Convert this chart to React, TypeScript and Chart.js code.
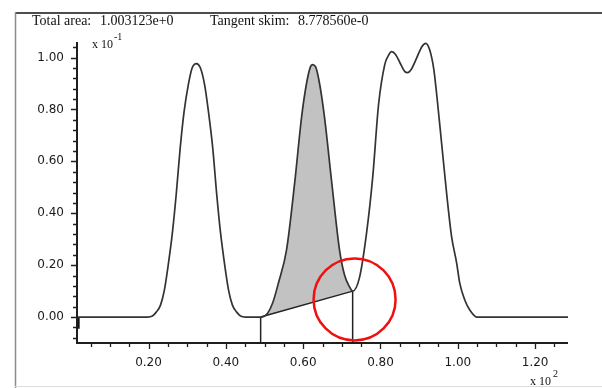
import React, { useEffect, useRef } from "react";
import { Chart, registerables } from "chart.js";

Chart.register(...registerables);

// ---- data (x in units of 10^2, y in units of 10^-1) ----
const curveX = [
  0.015, 0.197, 0.210, 0.220, 0.231, 0.241, 0.251, 0.262, 0.272, 0.282, 0.292, 0.303, 0.313, 0.324,
  0.334, 0.345, 0.355, 0.366, 0.376, 0.386, 0.397, 0.407, 0.417, 0.428, 0.438, 0.451,
  0.490, 0.508, 0.521, 0.536, 0.557, 0.578, 0.596, 0.609, 0.619, 0.624, 0.632, 0.642, 0.655,
  0.674, 0.694, 0.707, 0.720, 0.728,
  0.746, 0.764, 0.780, 0.795, 0.811, 0.819, 0.829, 0.839, 0.850, 0.863, 0.870, 0.881, 0.894,
  0.907, 0.917, 0.927, 0.938, 0.946, 0.959, 0.972, 0.984, 0.997, 1.005, 1.018, 1.031, 1.049, 1.285,
];
const curveY = [
  0, 0, 0.004, 0.019, 0.046, 0.104, 0.201, 0.328, 0.479, 0.653, 0.792, 0.896, 0.961, 0.977,
  0.961, 0.896, 0.792, 0.653, 0.479, 0.328, 0.201, 0.104, 0.046, 0.019, 0.004, 0,
  0, 0.015, 0.054, 0.131, 0.259, 0.517, 0.772, 0.903, 0.965, 0.973, 0.965, 0.903, 0.772,
  0.517, 0.259, 0.162, 0.116, 0.1,
  0.154, 0.324, 0.541, 0.819, 0.973, 1.004, 1.023, 1.012, 0.981, 0.946, 0.942, 0.958, 1.0,
  1.042, 1.055, 1.031, 0.954, 0.849, 0.656, 0.463, 0.309, 0.208, 0.131, 0.066, 0.027, 0, 0,
];
const skimX = [0.49, 0.728];
const skimY = [0, 0.1];
const dropX = [0.49, 0.728];
const dropTopY = [0, 0.1];

const xTickValues = [0.2, 0.4, 0.6, 0.8, 1.0, 1.2];
const xTickLabels = ["0.20", "0.40", "0.60", "0.80", "1.00", "1.20"];
const yTickValues = [0, 0.2, 0.4, 0.6, 0.8, 1.0];
const yTickLabels = ["0.00", "0.20", "0.40", "0.60", "0.80", "1.00"];
const headerTexts = ["Total area:", "1.003123e+0", "Tangent skim:", "8.778560e-0"];
const xExponent = "2";
const yExponent = "-1";

const X_MIN = 0.015;
const X_MAX = 1.285;
const Y_MIN = -0.1;
const Y_MAX = 1.06;
const X_MINOR = 0.05;
const Y_MINOR = 0.04;
const markCenter = { x: 0.733, y: 0.068 };

const pts = (xs: number[], ys: number[]) => xs.map((x, i) => ({ x, y: ys[i] }));

const decor = {
  id: "decor",
  afterDraw(chart: any) {
    const { ctx, chartArea: a, scales } = chart;
    const xs = scales.x;
    const ys = scales.y;
    ctx.save();
    // frame
    ctx.strokeStyle = "#4d4d4d";
    ctx.lineWidth = 2;
    ctx.beginPath();
    ctx.moveTo(15, 13);
    ctx.lineTo(602, 13);
    ctx.stroke();
    ctx.strokeStyle = "#8c8c8c";
    ctx.lineWidth = 1.5;
    ctx.beginPath();
    ctx.moveTo(15.5, 12);
    ctx.lineTo(15.5, 388);
    ctx.stroke();
    ctx.strokeStyle = "#dddddd";
    ctx.lineWidth = 1;
    ctx.beginPath();
    ctx.moveTo(15, 386.5);
    ctx.lineTo(602, 386.5);
    ctx.stroke();

    // axes
    ctx.strokeStyle = "#1e1e1e";
    ctx.lineWidth = 2;
    ctx.beginPath();
    ctx.moveTo(a.left, a.top);
    ctx.lineTo(a.left, a.bottom);
    ctx.lineTo(a.right, a.bottom);
    ctx.stroke();

    // ticks
    ctx.lineWidth = 1.3;
    ctx.beginPath();
    for (let k = 1; k * X_MINOR < X_MAX; k++) {
      const px = Math.round(xs.getPixelForValue(k * X_MINOR)) + 0.5;
      const len = k % 4 === 0 ? 6 : 4;
      ctx.moveTo(px, a.bottom);
      ctx.lineTo(px, a.bottom + len);
    }
    for (let k = Math.ceil(Y_MIN / Y_MINOR); k * Y_MINOR <= Y_MAX; k++) {
      const py = Math.round(ys.getPixelForValue(k * Y_MINOR)) + 0.5;
      const len = k % 5 === 0 ? 6 : 4;
      ctx.moveTo(a.left, py);
      ctx.lineTo(a.left - len, py);
    }
    ctx.stroke();

    // header
    ctx.fillStyle = "#111";
    ctx.textBaseline = "alphabetic";
    ctx.font = '14px "Liberation Serif"';
    ctx.fillText(headerTexts[0], 32, 25);
    ctx.fillText(headerTexts[1], 100, 25);
    ctx.fillText(headerTexts[2], 210, 25);
    ctx.fillText(headerTexts[3], 298, 25);

    // exponents
    ctx.font = '12px "Liberation Serif"';
    ctx.fillText("x 10", 92, 48);
    ctx.fillText("x 10", 530, 385);
    ctx.font = '10px "Liberation Serif"';
    ctx.fillText(yExponent, 114, 40);
    ctx.fillText(xExponent, 553, 377);

    // red mark
    ctx.strokeStyle = "#f01010";
    ctx.lineWidth = 2.5;
    ctx.beginPath();
    ctx.arc(xs.getPixelForValue(markCenter.x), ys.getPixelForValue(markCenter.y), 41, 0, Math.PI * 2);
    ctx.stroke();
    ctx.restore();
  },
};

export default function App() {
  const ref = useRef<HTMLCanvasElement | null>(null);
  useEffect(() => {
    const canvas = ref.current;
    if (!canvas) return;
    const curve = pts(curveX, curveY);
    const shade = curve.filter((p) => p.x >= skimX[0] && p.x <= skimX[1]);
    const chart = new Chart(canvas, {
      type: "scatter",
      data: {
        datasets: [
          {
            data: pts(skimX, skimY),
            showLine: true,
            borderColor: "#222",
            borderWidth: 1.5,
            pointRadius: 0,
            order: 2,
          } as any,
          {
            data: shade,
            showLine: true,
            borderWidth: 0,
            borderColor: "rgba(0,0,0,0)",
            backgroundColor: "#c2c2c2",
            fill: 0,
            cubicInterpolationMode: "monotone",
            pointRadius: 0,
            order: 3,
          } as any,
          {
            data: curve,
            showLine: true,
            borderColor: "#333",
            borderWidth: 1.7,
            cubicInterpolationMode: "monotone",
            pointRadius: 0,
            order: 1,
          } as any,
          {
            data: [
              { x: dropX[0], y: dropTopY[0] },
              { x: dropX[0], y: Y_MIN },
            ],
            showLine: true,
            borderColor: "#222",
            borderWidth: 1.5,
            pointRadius: 0,
            order: 1,
          } as any,
          {
            data: [
              { x: dropX[1], y: dropTopY[1] },
              { x: dropX[1], y: Y_MIN },
            ],
            showLine: true,
            borderColor: "#222",
            borderWidth: 1.5,
            pointRadius: 0,
            order: 1,
          } as any,
          {
            data: [
              { x: X_MIN + 0.003, y: 0 },
              { x: X_MIN + 0.003, y: -0.045 },
            ],
            showLine: true,
            borderColor: "#111",
            borderWidth: 3,
            pointRadius: 0,
            order: 1,
          } as any,
        ],
      },
      options: {
        responsive: false,
        maintainAspectRatio: false,
        animation: false,
        layout: { padding: { left: 15, right: 34, top: 42, bottom: 0 }, autoPadding: false } as any,
        plugins: { legend: { display: false }, tooltip: { enabled: false } },
        scales: {
          x: {
            type: "linear",
            min: X_MIN,
            max: X_MAX,
            grid: { display: false, drawTicks: false },
            border: { display: false },
            afterFit: (s: any) => {
              s.height = 45;
            },
            afterBuildTicks: (s: any) => {
              s.ticks = xTickValues.map((v) => ({ value: v }));
            },
            ticks: {
              autoSkip: false,
              maxRotation: 0,
              padding: 13,
              color: "#1a1a1a",
              font: { family: "DejaVu Sans", size: 12 },
              callback: (_v: any, i: number) => xTickLabels[i],
            },
          },
          y: {
            type: "linear",
            min: Y_MIN,
            max: Y_MAX,
            grid: { display: false, drawTicks: false },
            border: { display: false },
            afterFit: (s: any) => {
              s.width = 62;
            },
            afterBuildTicks: (s: any) => {
              s.ticks = yTickValues.map((v) => ({ value: v }));
            },
            ticks: {
              autoSkip: false,
              padding: 13,
              color: "#1a1a1a",
              font: { family: "DejaVu Sans", size: 12 },
              callback: (_v: any, i: number) => yTickLabels[i],
            },
          },
        },
      } as any,
      plugins: [decor],
    });
    return () => chart.destroy();
  }, []);
  return (
    <div style={{ position: "fixed", left: 0, top: 0, width: 602, height: 388, background: "#fff" }}>
      <canvas ref={ref} width={602} height={388} style={{ display: "block" }} />
    </div>
  );
}
